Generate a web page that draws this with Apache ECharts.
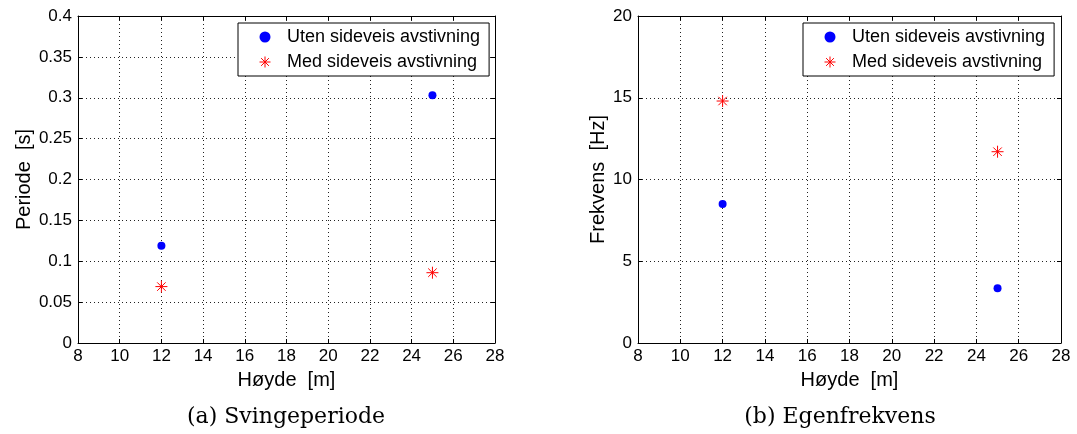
<!DOCTYPE html>
<html>
<head>
<meta charset="utf-8">
<script src="https://cdn.jsdelivr.net/npm/echarts@6/dist/echarts.min.js"></script>
<style>
html,body{margin:0;padding:0;background:#fff;}
#c{width:1077px;height:434px;}
</style>
</head>
<body>
<div id="c"></div>
<script>
// ---- data ----
const heights = [12, 25];
const periodUten = [0.119, 0.303];
const periodMed = [0.069, 0.086];
const freqUten = [8.5, 3.35];
const freqMed = [14.8, 11.7];
const seriesNames = ['Uten sideveis avstivning', 'Med sideveis avstivning'];
const captions = ['(a) Svingeperiode', '(b) Egenfrekvens'];
const xName = 'Høyde  [m]';
const yNames = ['Periode  [s]', 'Frekvens  [Hz]'];

const FONT = 'Liberation Sans';
const STAR = 'path://M0,6L12,6M6,0L6,12M1.76,1.76L10.24,10.24M10.24,1.76L1.76,10.24';

function pairs(xs, ys){ return xs.map((x,i)=>[x, ys[i]]); }

const gridLine = {show:true, lineStyle:{color:'#222', width:1, type:[1,3]}};
const axisLine = {show:true, onZero:false, lineStyle:{color:'#000', width:1}};
const tick = {show:true, inside:true, length:4, lineStyle:{color:'#000'}};
const lab = {color:'#000', fontFamily:FONT, fontSize:17};
const nameStyle = {color:'#000', fontFamily:FONT, fontSize:20};

function xAxes(gi){
  return [
    {type:'value', gridIndex:gi, position:'bottom', min:8, max:28, interval:2,
     name:xName, nameLocation:'middle', nameGap:27, nameTextStyle:nameStyle,
     axisLine:axisLine, axisTick:tick, axisLabel:Object.assign({margin:5}, lab), splitLine:gridLine},
    {type:'value', gridIndex:gi, position:'top', min:8, max:28, interval:2,
     axisLine:axisLine, axisTick:tick, axisLabel:{show:false}, splitLine:{show:false}}
  ];
}
function yAxes(gi, max, interval, nameGap){
  return [
    {type:'value', gridIndex:gi, position:'left', min:0, max:max, interval:interval,
     name:yNames[gi], nameLocation:'middle', nameGap:nameGap, nameTextStyle:nameStyle,
     axisLine:axisLine, axisTick:tick, axisLabel:Object.assign({margin:6}, lab), splitLine:gridLine},
    {type:'value', gridIndex:gi, position:'right', min:0, max:max, interval:interval,
     axisLine:axisLine, axisTick:tick, axisLabel:{show:false}, splitLine:{show:false}}
  ];
}

const legendBase = {
  orient:'vertical',
  data: [
    {name: seriesNames[0]},
    {name: seriesNames[1], icon: STAR, itemStyle:{color:'rgba(0,0,0,0)', borderColor:'#ff0000', borderWidth:1}}
  ],
  backgroundColor:'#fff', borderColor:'#000', borderWidth:1,
  padding:[5, 9, 5, 21], itemGap:7, itemWidth:34, itemHeight:11,
  textStyle:{color:'#000', fontFamily:FONT, fontSize:18, lineHeight:18},
  selectedMode:false
};

function mkSeries(gi, uten, med){
  return [
    {name:seriesNames[0], type:'scatter', xAxisIndex:gi*2, yAxisIndex:gi*2,
     data:pairs(heights, uten), symbol:'circle', symbolSize:8,
     itemStyle:{color:'#0000ff', opacity:1}},
    {name:seriesNames[1], type:'scatter', xAxisIndex:gi*2, yAxisIndex:gi*2,
     data:pairs(heights, med), symbol:STAR, symbolSize:12,
     itemStyle:{color:'#ff0000', borderColor:'#ff0000', borderWidth:1, opacity:1}}
  ];
}

const chart = echarts.init(document.getElementById('c'), null, {renderer:'canvas'});
chart.setOption({
  backgroundColor:'#fff',
  animation:false,
  grid:[
    {left:78, right:582, top:16, bottom:91, show:false},
    {left:638, right:16, top:16, bottom:91, show:false}
  ],
  xAxis: xAxes(0).concat(xAxes(1)),
  yAxis: yAxes(0, 0.4, 0.05, 44).concat(yAxes(1, 20, 5, 30)),
  legend:[
    Object.assign({left:238, top:23}, legendBase),
    Object.assign({left:803, top:23}, legendBase)
  ],
  series: mkSeries(0, periodUten, periodMed).concat(mkSeries(1, freqUten, freqMed)),
  graphic:[
    {type:'text', style:{text:captions[0], font:'22px "DejaVu Serif"', fill:'#000', textAlign:'center', textVerticalAlign:'middle'}, position:[286, 417]},
    {type:'text', style:{text:captions[1], font:'22px "DejaVu Serif"', fill:'#000', textAlign:'center', textVerticalAlign:'middle'}, position:[840, 417]}
  ]
});
</script>
</body>
</html>
